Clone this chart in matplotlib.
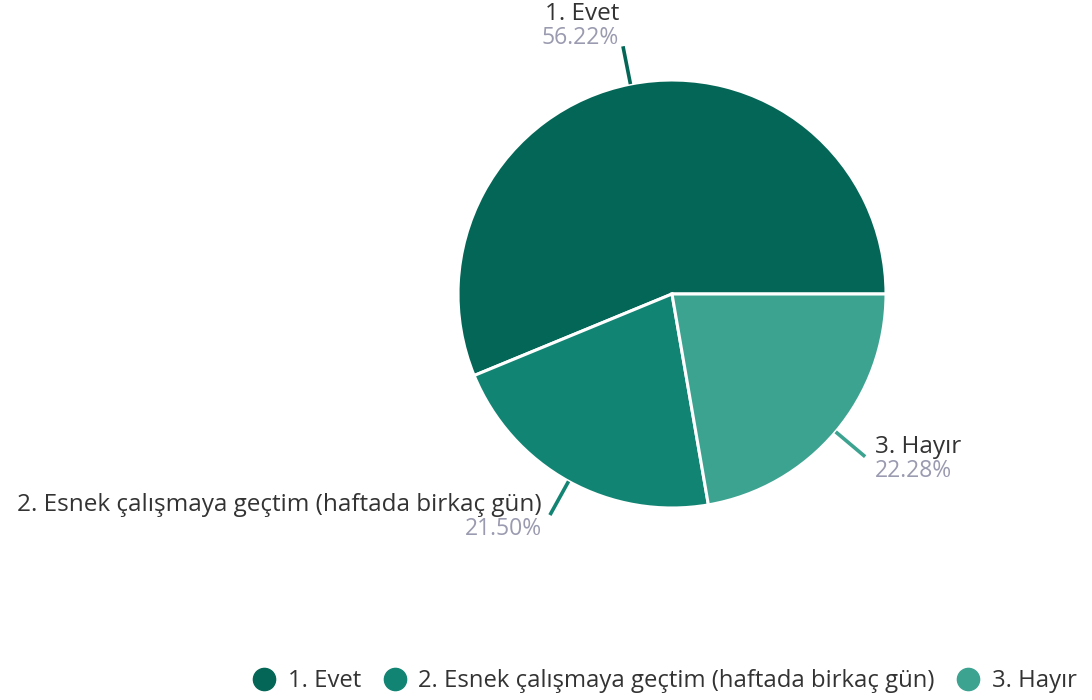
import matplotlib.pyplot as plt
import numpy as np
from matplotlib.lines import Line2D

labels = ["1. Evet", "2. Esnek çalışmaya geçtim (haftada birkaç gün)", "3. Hayır"]
values = [56.22, 21.50, 22.28]
colors = ["#046656", "#128473", "#3da391"]

plt.rcParams['font.family'] = ['Open Sans', 'DejaVu Sans']

fig = plt.figure(figsize=(10.92, 7), dpi=100)
ax = fig.add_axes([0, 0, 1, 1])

cx, cy, r = 672, 406, 214
wedges, _ = ax.pie(values, colors=colors, startangle=0, counterclock=True,
                   center=(cx, cy), radius=r, frame=True,
                   wedgeprops=dict(edgecolor='white', linewidth=2.2))
ax.set_xlim(0, 1092)
ax.set_ylim(0, 700)
ax.set_aspect('equal')
ax.axis('off')

# leader lines and labels
for w, lab, val, col in zip(wedges, labels, values, colors):
    ang = np.deg2rad((w.theta1 + w.theta2) / 2)
    c, s = np.cos(ang), np.sin(ang)
    x0, y0 = cx + r * c, cy + r * s
    x1, y1 = cx + r * 1.18 * c, cy + r * 1.18 * s
    ax.plot([x0, x1], [y0, y1], color=col, lw=2.6, solid_capstyle='butt')
    ha = 'right' if c < 0 else 'left'
    if s > 0.9:
        tx = x1 - 4 if c < 0 else x1 + 4
        ny, py = y1 + 32, y1 + 8
    else:
        tx = x1 - 8 if c < 0 else x1 + 10
        ny, py = y1 + 10, y1 - 14
    ax.text(tx, ny, lab, ha=ha, va='center', fontsize=17.5, color='#333333')
    ax.text(tx, py, f"{val:.2f}%", ha=ha, va='center', fontsize=16.5, color='#9a9ab0')

handles = [Line2D([], [], marker='o', linestyle='none', markersize=16,
                  markerfacecolor=c, markeredgecolor=c) for c in colors]
fig.legend(handles, labels, loc='center left', bbox_to_anchor=(252 / 1092, 19 / 700),
           ncol=3, frameon=False, fontsize=17.2, handletextpad=0.5,
           columnspacing=0.9, handlelength=1.0, borderaxespad=0, borderpad=0,
           labelcolor='#333333')

fig.savefig("out.png", dpi=100)
